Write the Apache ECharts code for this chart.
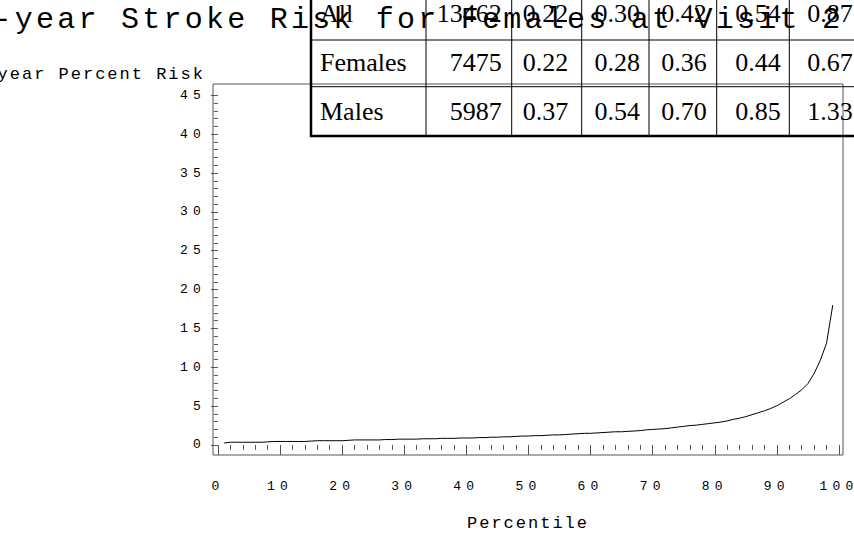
<!DOCTYPE html>
<html>
<head>
<meta charset="utf-8">
<title>10-year Stroke Risk for Females at Visit 2</title>
<script src="https://cdn.jsdelivr.net/npm/echarts@6/dist/echarts.min.js"></script>
<style>
  html, body { margin: 0; padding: 0; background: #ffffff; }
  #chart { width: 854px; height: 537px; }
  /* wide, typewriter-style spacing for the monospace texts */
  #chart text[style*="font-size:13px"], #chart text[style*="font-size: 13px"] { letter-spacing: 5.2px; }
  #chart text[style*="font-size:17px"], #chart text[style*="font-size: 17px"] { letter-spacing: 2px; }
  #chart text[style*="font-size:30px"], #chart text[style*="font-size: 30px"] { letter-spacing: 3.24px; }
</style>
</head>
<body>
<div id="chart"></div>
<script>
// Percentile of the risk distribution (x) and 10-year risk in percent (y)
const percentiles = [
  1, 2, 3, 4, 5, 6, 7, 8, 9, 10, 11, 12, 13, 14, 15, 16, 17, 18, 19, 20,
  21, 22, 23, 24, 25, 26, 27, 28, 29, 30, 31, 32, 33, 34, 35, 36, 37, 38, 39, 40,
  41, 42, 43, 44, 45, 46, 47, 48, 49, 50, 51, 52, 53, 54, 55, 56, 57, 58, 59, 60,
  61, 62, 63, 64, 65, 66, 67, 68, 69, 70, 71, 72, 73, 74, 75, 76, 77, 78, 79, 80,
  81, 82, 83, 84, 85, 86, 87, 88, 89, 90, 91, 92, 93, 94, 95, 96, 97, 98, 99
];
const riskPercent = [
  0.25, 0.35, 0.35, 0.35, 0.35, 0.35, 0.35, 0.40, 0.45, 0.45,
  0.45, 0.45, 0.45, 0.45, 0.50, 0.55, 0.55, 0.55, 0.55, 0.55,
  0.60, 0.65, 0.65, 0.65, 0.65, 0.65, 0.70, 0.70, 0.75, 0.75,
  0.75, 0.75, 0.80, 0.80, 0.80, 0.85, 0.85, 0.85, 0.90, 0.90,
  0.90, 0.95, 0.95, 1.00, 1.00, 1.05, 1.05, 1.10, 1.15, 1.15,
  1.20, 1.20, 1.25, 1.30, 1.30, 1.35, 1.40, 1.45, 1.50, 1.50,
  1.55, 1.60, 1.65, 1.70, 1.70, 1.75, 1.80, 1.85, 1.95, 2.00,
  2.05, 2.10, 2.20, 2.30, 2.40, 2.50, 2.55, 2.65, 2.75, 2.85,
  2.95, 3.10, 3.30, 3.45, 3.65, 3.90, 4.15, 4.40, 4.70, 5.05,
  5.50, 5.95, 6.50, 7.10, 7.90, 9.20, 10.90, 13.10, 18.00
];

// Axis tick labels
const xTicks = [0, 10, 20, 30, 40, 50, 60, 70, 80, 90, 100];
const yTicks = [0, 5, 10, 15, 20, 25, 30, 35, 40, 45];

// Summary table shown above the plot
const tableGroups = ['All', 'Females', 'Males'];
const tableN = ['13462', '7475', '5987'];
const tableAll = ['0.22', '0.30', '0.42', '0.54', '0.87'];
const tableFemales = ['0.22', '0.28', '0.36', '0.44', '0.67'];
const tableMales = ['0.37', '0.54', '0.70', '0.85', '1.33'];

const titleText = '10-year Stroke Risk for Females at Visit 2';
const yName = '10-year Percent Risk';
const xName = 'Percentile';

// four minor ticks between neighbouring major ticks
function minorTicks(major) {
  const out = [];
  for (let i = 0; i < major.length - 1; i++) {
    const step = (major[i + 1] - major[i]) / 5;
    for (let k = 1; k < 5; k++) out.push(major[i] + step * k);
  }
  return out;
}

const MONO = "'Liberation Mono', 'Courier New', monospace";
const SERIF = "'Liberation Serif', 'Times New Roman', serif";
const AXIS_COLOR = '#555555';

const chart = echarts.init(document.getElementById('chart'), null, { renderer: 'svg' });

// ---- table graphic ----
const colEdges = [311, 426, 511.7, 581.7, 649, 716.7, 789.3, 862];
const rowEdges = [-7, 40, 86.7, 136];
const rowMid = [13, 62, 111];
const numRight = [501.7, 568.3, 640, 706.7, 780.7, 852.7];
const tableRows = [tableAll, tableFemales, tableMales];

const tableGraphics = [];
colEdges.forEach((x, i) => {
  tableGraphics.push({
    type: 'line', silent: true,
    shape: { x1: x, y1: rowEdges[0], x2: x, y2: rowEdges[rowEdges.length - 1] + 1 },
    style: { stroke: '#000', lineWidth: i === 0 ? 2.5 : 1 }
  });
});
rowEdges.forEach((y, i) => {
  const last = i === rowEdges.length - 1;
  tableGraphics.push({
    type: 'line', silent: true,
    shape: { x1: colEdges[0] - 1, y1: y, x2: colEdges[colEdges.length - 1], y2: y },
    style: { stroke: '#000', lineWidth: last ? 2.5 : 1 }
  });
});
tableGroups.forEach((g, r) => {
  tableGraphics.push({
    type: 'text', silent: true, x: 320, y: rowMid[r],
    style: { text: g, fontSize: 26, fontFamily: SERIF, fill: '#000', align: 'left', verticalAlign: 'middle' }
  });
  const cells = [tableN[r]].concat(tableRows[r]);
  cells.forEach((v, c) => {
    tableGraphics.push({
      type: 'text', silent: true, x: numRight[c], y: rowMid[r],
      style: { text: v, fontSize: 26, fontFamily: SERIF, fill: '#000', align: 'right', verticalAlign: 'middle' }
    });
  });
});

const option = {
  animation: false,
  backgroundColor: '#ffffff',
  title: {
    text: titleText,
    left: -49,
    top: 5,
    padding: 0,
    textStyle: { fontFamily: MONO, fontSize: 30, fontWeight: 'normal', color: '#000' }
  },
  grid: {
    left: 213, right: 11, top: 84, bottom: 82,
    containLabel: false,
    outerBoundsMode: 'none',
    show: true,
    borderColor: AXIS_COLOR,
    borderWidth: 1,
    backgroundColor: 'transparent'
  },
  xAxis: [
    {
      type: 'value', min: -0.8, max: 100.65, position: 'bottom',
      axisLine: { show: false },
      splitLine: { show: false },
      axisTick: { show: true, customValues: xTicks, length: 10, lineStyle: { color: AXIS_COLOR, width: 1 } },
      axisLabel: { customValues: xTicks, fontFamily: MONO, fontSize: 13, color: '#000', margin: 25 },
      name: xName, nameLocation: 'middle', nameGap: 60,
      nameTextStyle: { fontFamily: MONO, fontSize: 17, color: '#000' }
    },
    {
      type: 'value', min: -0.8, max: 100.65, position: 'bottom',
      axisLine: { show: false },
      splitLine: { show: false },
      axisTick: { show: true, customValues: minorTicks(xTicks), length: 5, lineStyle: { color: AXIS_COLOR, width: 1 } },
      axisLabel: { show: false }
    }
  ],
  yAxis: [
    {
      type: 'value', min: -1.29, max: 46.46, position: 'left',
      axisLine: { show: false },
      splitLine: { show: false },
      axisTick: { show: true, customValues: yTicks, length: 7, lineStyle: { color: AXIS_COLOR, width: 1 } },
      axisLabel: { customValues: yTicks, fontFamily: MONO, fontSize: 13, color: '#000', margin: 7 },
      name: yName, nameLocation: 'end', nameGap: 10,
      nameTextStyle: { fontFamily: MONO, fontSize: 17, color: '#000', align: 'right', verticalAlign: 'middle', padding: [0, 13, 0, 0] }
    },
    {
      type: 'value', min: -1.29, max: 46.46, position: 'left',
      axisLine: { show: false },
      splitLine: { show: false },
      axisTick: { show: true, customValues: minorTicks(yTicks), length: 4, lineStyle: { color: AXIS_COLOR, width: 1 } },
      axisLabel: { show: false }
    }
  ],
  series: [
    {
      type: 'line',
      xAxisIndex: 0, yAxisIndex: 0,
      data: percentiles.map((p, i) => [p, riskPercent[i]]),
      showSymbol: false,
      symbol: 'none',
      lineStyle: { color: '#000', width: 1 },
      silent: true
    }
  ],
  graphic: tableGraphics
};

chart.setOption(option);
</script>
</body>
</html>
